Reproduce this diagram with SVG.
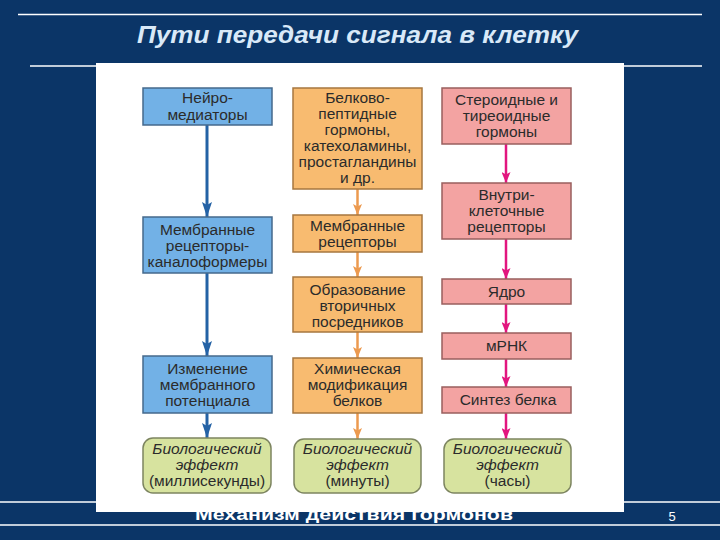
<svg xmlns="http://www.w3.org/2000/svg" width="720" height="540" viewBox="0 0 720 540">
<defs>
<style>
.t{font-family:"Liberation Sans",Arial,sans-serif;font-size:15.5px;fill:#2b2b2b;text-anchor:middle}
.i{font-style:italic}
.blue{fill:#72b1e6;stroke:#45698c;stroke-width:1.5}
.orange{fill:#f8bb70;stroke:#a7773f;stroke-width:1.5}
.pink{fill:#f3a3a2;stroke:#995f5e;stroke-width:1.5}
.green{fill:#d7e39f;stroke:#7d8560;stroke-width:1.5}
.ab{stroke:#2462a5;stroke-width:3;fill:none}
.ao{stroke:#ec9a4f;stroke-width:2.5;fill:none}
.ap{stroke:#e2167f;stroke-width:2.5;fill:none}
.rule{stroke:#ffffff;stroke-width:1.5}
.title{font-family:"Liberation Sans",Arial,sans-serif;font-weight:bold;font-style:italic;font-size:23px;fill:#d9e9f8;text-anchor:middle}
.foot{font-family:"Liberation Sans",Arial,sans-serif;font-weight:bold;font-size:17px;fill:#ffffff;text-anchor:middle}
</style>
<marker id="mb" markerUnits="userSpaceOnUse" viewBox="0 0 15 10" markerWidth="15" markerHeight="10" refX="15" refY="5" orient="auto">
<path d="M0,0 L15,5 L0,10 L3,5 z" fill="#2462a5"/>
</marker>
<marker id="mo" markerUnits="userSpaceOnUse" viewBox="0 0 11 9" markerWidth="11" markerHeight="9" refX="11" refY="4.5" orient="auto">
<path d="M0,0 L11,4.5 L0,9 L2.5,4.5 z" fill="#ec9a4f"/>
</marker>
<marker id="mp" markerUnits="userSpaceOnUse" viewBox="0 0 11 9" markerWidth="11" markerHeight="9" refX="11" refY="4.5" orient="auto">
<path d="M0,0 L11,4.5 L0,9 L2.5,4.5 z" fill="#e2167f"/>
</marker>
</defs>

<rect x="0" y="0" width="720" height="540" fill="#0b3567"/>
<line class="rule" x1="18" y1="14.5" x2="702" y2="14.5"/>
<line class="rule" x1="30" y1="66" x2="702" y2="66"/>
<line class="rule" x1="0" y1="502" x2="720" y2="502"/>
<line class="rule" x1="0" y1="525" x2="720" y2="525"/>
<text class="title" x="357.5" y="43" textLength="441" lengthAdjust="spacingAndGlyphs">Пути передачи сигнала в клетку</text>
<text class="foot" x="354" y="520" textLength="318" lengthAdjust="spacingAndGlyphs">Механизм  действия  гормонов</text>
<text x="672" y="521" font-family="Liberation Sans,Arial,sans-serif" font-size="13" fill="#ffffff" text-anchor="middle">5</text>

<rect x="96" y="63" width="528" height="449" fill="#ffffff"/>

<g id="connectors">
<line class="ab" x1="207" y1="125" x2="207" y2="217" marker-end="url(#mb)"/>
<line class="ab" x1="207" y1="273" x2="207" y2="356" marker-end="url(#mb)"/>
<line class="ab" x1="207" y1="413" x2="207" y2="438" marker-end="url(#mb)"/>
<line class="ao" x1="357.5" y1="189" x2="357.5" y2="215" marker-end="url(#mo)"/>
<line class="ao" x1="357.5" y1="252" x2="357.5" y2="277" marker-end="url(#mo)"/>
<line class="ao" x1="357.5" y1="332" x2="357.5" y2="358" marker-end="url(#mo)"/>
<line class="ao" x1="357.5" y1="413" x2="357.5" y2="439" marker-end="url(#mo)"/>
<line class="ap" x1="506" y1="144" x2="506" y2="183" marker-end="url(#mp)"/>
<line class="ap" x1="506" y1="239" x2="506" y2="279" marker-end="url(#mp)"/>
<line class="ap" x1="506" y1="304" x2="506" y2="333" marker-end="url(#mp)"/>
<line class="ap" x1="506" y1="359" x2="506" y2="387" marker-end="url(#mp)"/>
<line class="ap" x1="506" y1="413" x2="506" y2="439" marker-end="url(#mp)"/>
</g>

<g id="neuromediators">
<rect class="blue" x="143" y="88" width="129" height="37"/>
<text class="t" x="207.5" y="103">Нейро-</text>
<text class="t" x="207.5" y="120">медиаторы</text>
</g>
<g id="membrane-channel-receptors">
<rect class="blue" x="143" y="217" width="129" height="56"/>
<text class="t" x="207.5" y="235">Мембранные</text>
<text class="t" x="207.5" y="251">рецепторы-</text>
<text class="t" x="207.5" y="267">каналоформеры</text>
</g>
<g id="membrane-potential">
<rect class="blue" x="143" y="356" width="129" height="57"/>
<text class="t" x="207.5" y="374">Изменение</text>
<text class="t" x="207.5" y="390">мембранного</text>
<text class="t" x="207.5" y="406">потенциала</text>
</g>
<g id="effect-ms">
<rect class="green" x="143" y="438" width="128" height="55" rx="10"/>
<text class="t i" x="207" y="454">Биологический</text>
<text class="t i" x="207" y="470">эффект</text>
<text class="t" x="207" y="486">(миллисекунды)</text>
</g>

<g id="peptide-hormones">
<rect class="orange" x="293" y="88" width="129" height="101"/>
<text class="t" x="357.5" y="103">Белково-</text>
<text class="t" x="357.5" y="119">пептидные</text>
<text class="t" x="357.5" y="135">гормоны,</text>
<text class="t" x="357.5" y="151">катехоламины,</text>
<text class="t" x="357.5" y="167">простагландины</text>
<text class="t" x="357.5" y="183">и др.</text>
</g>
<g id="membrane-receptors">
<rect class="orange" x="293" y="215" width="129" height="37"/>
<text class="t" x="357.5" y="231">Мембранные</text>
<text class="t" x="357.5" y="247">рецепторы</text>
</g>
<g id="second-messengers">
<rect class="orange" x="293" y="277" width="129" height="55"/>
<text class="t" x="357.5" y="295">Образование</text>
<text class="t" x="357.5" y="311">вторичных</text>
<text class="t" x="357.5" y="327">посредников</text>
</g>
<g id="protein-modification">
<rect class="orange" x="293" y="358" width="129" height="55"/>
<text class="t" x="357.5" y="374">Химическая</text>
<text class="t" x="357.5" y="390">модификация</text>
<text class="t" x="357.5" y="406">белков</text>
</g>
<g id="effect-min">
<rect class="green" x="294" y="439" width="127" height="54" rx="10"/>
<text class="t i" x="357.5" y="454">Биологический</text>
<text class="t i" x="357.5" y="470">эффект</text>
<text class="t" x="357.5" y="486">(минуты)</text>
</g>

<g id="steroid-hormones">
<rect class="pink" x="442" y="88" width="129" height="56"/>
<text class="t" x="506.5" y="105">Стероидные и</text>
<text class="t" x="506.5" y="121">тиреоидные</text>
<text class="t" x="506.5" y="137">гормоны</text>
</g>
<g id="intracellular-receptors">
<rect class="pink" x="442" y="183" width="129" height="56"/>
<text class="t" x="506.5" y="200">Внутри-</text>
<text class="t" x="506.5" y="216">клеточные</text>
<text class="t" x="506.5" y="232">рецепторы</text>
</g>
<g id="nucleus">
<rect class="pink" x="442" y="279" width="129" height="25"/>
<text class="t" x="506.5" y="297">Ядро</text>
</g>
<g id="mrna">
<rect class="pink" x="442" y="333" width="129" height="26"/>
<text class="t" x="506.5" y="351">мРНК</text>
</g>
<g id="protein-synthesis">
<rect class="pink" x="442" y="387" width="129" height="26"/>
<text class="t" x="508" y="405">Синтез белка</text>
</g>
<g id="effect-h">
<rect class="green" x="444" y="439" width="127" height="54" rx="10"/>
<text class="t i" x="507.5" y="454">Биологический</text>
<text class="t i" x="507.5" y="470">эффект</text>
<text class="t" x="507.5" y="486">(часы)</text>
</g>
</svg>
